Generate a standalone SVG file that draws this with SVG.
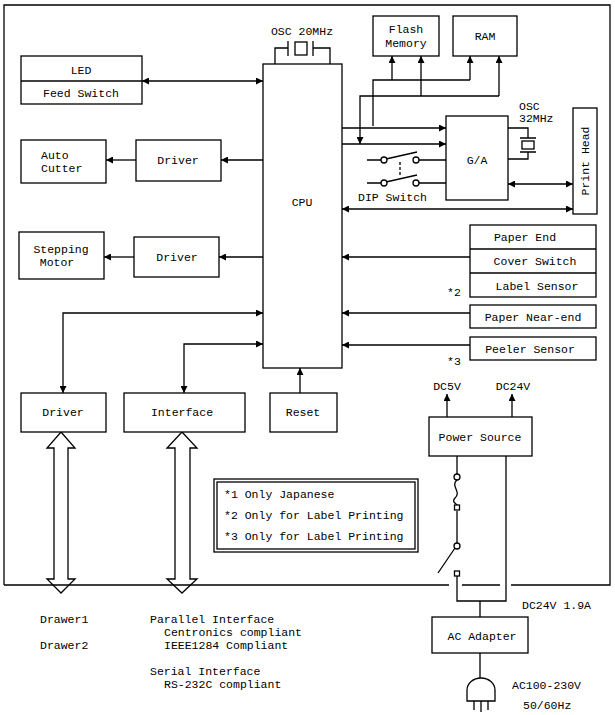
<svg xmlns="http://www.w3.org/2000/svg" width="615" height="715" viewBox="0 0 615 715">
<style>
.b{fill:#fff;stroke:#000;stroke-width:1.3}
.l{fill:none;stroke:#000;stroke-width:1.3}
text{font-family:"Liberation Mono","DejaVu Sans Mono",monospace;font-size:11.5px;fill:#000}
.c{text-anchor:middle}
</style>
<defs>
<marker id="a" viewBox="0 0 10 10" refX="10" refY="5" markerWidth="7" markerHeight="7" orient="auto-start-reverse" markerUnits="userSpaceOnUse"><path d="M0,0L10,5L0,10z"/></marker>
</defs>
<rect width="615" height="715" fill="#fff"/>
<path class="l" d="M4,585V5H610V585H511M500,585H462M449,585H4"/>
<g id="connectors">
<line class="l" x1="142" y1="81" x2="263" y2="81" marker-start="url(#a)" marker-end="url(#a)"/>
<line class="l" x1="263" y1="160" x2="221" y2="160" marker-end="url(#a)"/>
<line class="l" x1="136" y1="160" x2="106" y2="160" marker-end="url(#a)"/>
<line class="l" x1="263" y1="257" x2="219" y2="257" marker-end="url(#a)"/>
<line class="l" x1="134" y1="257" x2="104" y2="257" marker-end="url(#a)"/>
<polyline class="l" points="63,393 63,313 263,313" marker-start="url(#a)" marker-end="url(#a)"/>
<polyline class="l" points="184,393 184,344 263,344" marker-start="url(#a)" marker-end="url(#a)"/>
<line class="l" x1="300" y1="393" x2="300" y2="368" marker-end="url(#a)"/>
<line class="l" x1="342" y1="128" x2="446" y2="128" marker-end="url(#a)"/>
<line class="l" x1="342" y1="144" x2="446" y2="144" marker-end="url(#a)"/>
<polyline class="l" points="373,126 373,80 470,80"/>
<line class="l" x1="392" y1="80" x2="392" y2="56" marker-end="url(#a)"/>
<line class="l" x1="470" y1="80" x2="470" y2="56" marker-end="url(#a)"/>
<polyline class="l" points="360,144 360,96 499,96" marker-start="url(#a)"/>
<line class="l" x1="421" y1="96" x2="421" y2="56" marker-end="url(#a)"/>
<line class="l" x1="499" y1="96" x2="499" y2="56" marker-end="url(#a)"/>
<line class="l" x1="508" y1="184" x2="573" y2="184" marker-start="url(#a)" marker-end="url(#a)"/>
<line class="l" x1="342" y1="209" x2="573" y2="209" marker-start="url(#a)" marker-end="url(#a)"/>
<line class="l" x1="470" y1="257" x2="342" y2="257" marker-end="url(#a)"/>
<line class="l" x1="470" y1="313" x2="342" y2="313" marker-end="url(#a)"/>
<line class="l" x1="470" y1="345" x2="342" y2="345" marker-end="url(#a)"/>
<line class="l" x1="447" y1="417" x2="447" y2="394" marker-end="url(#a)"/>
<line class="l" x1="512" y1="417" x2="512" y2="394" marker-end="url(#a)"/>
<path class="l" d="M275,64V48H288M288,41V56M313,41V56M313,48H330V64"/>
<rect class="l" x="295" y="42" width="12" height="13"/>
<path class="l" d="M508,128H528V138M520,138H536M520,152H536M528,152V159H508"/>
<rect class="l" x="522" y="141" width="12" height="8"/>
<path class="l" d="M367,160H381M419,160H446M367,183H381M419,183H446M386,159L417,152M386,182L417,175"/>
<line class="l" x1="400" y1="162" x2="400" y2="177" stroke-dasharray="3,2"/>
<circle class="b" cx="384" cy="160" r="3"/><circle class="b" cx="416" cy="160" r="3"/>
<circle class="b" cx="384" cy="183" r="3"/><circle class="b" cx="416" cy="183" r="3"/>
<path class="l" d="M61,432L75,448H68V579H75L61,593L47,579H54V448H47Z"/>
<path class="l" d="M182,432L197,448H190V579H197L182,593L167,579H175V448H167Z"/>
<path class="l" d="M457,456V474M457,480C450,486 462,492 455,498C451,502 457,504 457,505M457,511V543M455,548L438,573M457,576V601H506V456M480,601V617M480,653V678"/>
<circle class="b" cx="457" cy="477" r="3"/>
<rect class="b" x="454.5" y="505" width="5" height="5"/>
<circle class="b" cx="457" cy="546" r="3"/>
<rect class="b" x="454.5" y="571" width="5" height="5"/>
<path class="l" d="M467,701V690A14,12 0 0 1 495,690V701Z"/>
<path class="l" d="M474,701V710M481,701V712M488,701V710"/>
</g>
<g id="led"><rect class="b" x="21" y="56" width="121" height="48"/><line class="l" x1="21" y1="81" x2="142" y2="81"/><text class="c" x="81" y="74">LED</text><text class="c" x="81" y="97">Feed Switch</text></g>
<g id="cutter"><rect class="b" x="21" y="140" width="85" height="43"/><text x="41" y="159">Auto</text><text x="41" y="172">Cutter</text></g>
<g id="drv1"><rect class="b" x="136" y="140" width="85" height="41"/><text class="c" x="178" y="164">Driver</text></g>
<g id="motor"><rect class="b" x="19" y="232" width="85" height="47"/><text class="c" x="61" y="253">Stepping</text><text class="c" x="57" y="266">Motor</text></g>
<g id="drv2"><rect class="b" x="134" y="237" width="85" height="40"/><text class="c" x="177" y="261">Driver</text></g>
<g id="cpu"><rect class="b" x="263" y="64" width="79" height="304"/><text class="c" x="302" y="206">CPU</text><text class="c" x="302" y="35">OSC 20MHz</text></g>
<g id="flash"><rect class="b" x="373" y="16" width="66" height="40"/><text class="c" x="406" y="33">Flash</text><text class="c" x="406" y="47">Memory</text></g>
<g id="ram"><rect class="b" x="453" y="16" width="64" height="40"/><text class="c" x="485" y="40">RAM</text></g>
<g id="ga"><rect class="b" x="446" y="116" width="62" height="84"/><text class="c" x="477" y="164">G/A</text><text x="519" y="110">OSC</text><text x="519" y="122">32MHz</text><text x="358" y="201">DIP Switch</text></g>
<g id="head"><rect class="b" x="573" y="108" width="24" height="106"/><text class="c" transform="translate(589,161) rotate(-90)">Print Head</text></g>
<g id="sensors"><rect class="b" x="470" y="225" width="126" height="72"/><line class="l" x1="470" y1="249" x2="596" y2="249"/><line class="l" x1="470" y1="273" x2="596" y2="273"/><text class="c" x="525" y="241">Paper End</text><text class="c" x="535" y="265">Cover Switch</text><text class="c" x="537" y="290">Label Sensor</text><text x="447" y="296">*2</text></g>
<g id="near"><rect class="b" x="470" y="305" width="126" height="23"/><text class="c" x="533" y="321">Paper Near-end</text></g>
<g id="peeler"><rect class="b" x="470" y="337" width="126" height="23"/><text class="c" x="530" y="353">Peeler Sensor</text><text x="447" y="365">*3</text></g>
<g id="drv3"><rect class="b" x="21" y="393" width="85" height="39"/><text class="c" x="63" y="416">Driver</text></g>
<g id="iface"><rect class="b" x="124" y="393" width="121" height="39"/><text class="c" x="182" y="416">Interface</text></g>
<g id="reset"><rect class="b" x="270" y="393" width="67" height="39"/><text class="c" x="303" y="416">Reset</text></g>
<g id="notes"><rect class="b" x="214" y="479" width="204" height="73"/><rect class="l" x="217" y="482" width="198" height="67"/><text x="224" y="498">*1 Only Japanese</text><text x="224" y="519">*2 Only for Label Printing</text><text x="224" y="540">*3 Only for Label Printing</text></g>
<g id="power"><rect class="b" x="429" y="417" width="103" height="39"/><text class="c" x="480" y="441">Power Source</text><text class="c" x="447" y="390">DC5V</text><text class="c" x="513" y="390">DC24V</text></g>
<g id="adapter"><rect class="b" x="432" y="617" width="96" height="36"/><text class="c" x="482" y="640">AC Adapter</text><text x="522" y="609">DC24V 1.9A</text><text x="512" y="689">AC100-230V</text><text x="523" y="709">50/60Hz</text></g>
<g id="bottom"><text x="40" y="623">Drawer1</text><text x="40" y="649">Drawer2</text><text x="150" y="623">Parallel Interface</text><text x="164" y="636">Centronics compliant</text><text x="164" y="649">IEEE1284 Compliant</text><text x="150" y="675">Serial Interface</text><text x="164" y="688">RS-232C compliant</text></g>
</svg>
